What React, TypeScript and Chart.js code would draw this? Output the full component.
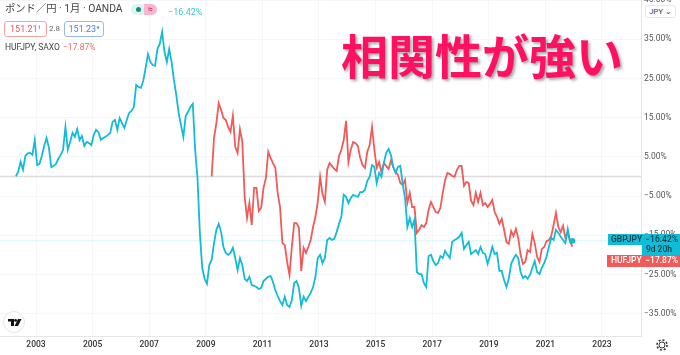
import React, { useEffect, useRef } from "react";
import { Chart, registerables } from "chart.js";

Chart.register(...registerables);

const START_YEAR = 2002.29;
const xTickYears = [2003, 2005, 2007, 2009, 2011, 2013, 2015, 2017, 2019, 2021, 2023];
const yTickValues = [45, 35, 25, 15, 5, -5, -15, -25, -35];
const gbpLast = -16.42;
const hufLast = -17.87;
const hufStartIndex = 83;

const gbpValues = [
  0, 1.3, 3.7, 1.7, 5.2, 5.9, 6.0, 5.5, 9.3, 2.9, 3.2, 5.2, 7.8, 9.8, 7.3, 2.4, 2.7, 3.2, 4.5, 5.5,
  6.8, 12.6, 6.8, 8.8, 11.1, 10.1, 12.1, 9.3, 10.3, 7.8, 8.8, 8.5, 8.0, 10.6, 11.9, 11.3, 9.3, 9.8, 10.1, 10.6,
  11.1, 13.9, 14.4, 11.9, 14.9, 13.6, 12.4, 14.4, 16.2, 16.7, 17.7, 23.3, 22.8, 22.6, 24.4, 27.7, 31.2, 29.2, 28.4, 28.2,
  32.5, 33.8, 36.9, 31.8, 29.2, 32.5, 29.2, 24.6, 20.8, 16.2, 13.1, 10.1, 15.4, 16.5, 17.7, 18.5, 6.8, -0.4,
  -14.4, -23.3, -26.1, -27.4, -22.6, -21.3, -17.0, -13.6, -12.1, -14.2, -18.0, -19.5, -20.0, -19.5, -18.2, -20.8, -23.9, -20.8, -22.6, -26.1,
  -26.7, -25.6, -27.7, -27.9, -28.2, -28.7, -28.4, -26.7, -26.1, -25.6, -25.4, -26.9, -29.0, -30.5, -31.8, -32.8, -30.7, -32.8, -33.3, -31.5,
  -27.2, -26.7, -28.4, -33.0, -30.7, -31.8, -30.7, -29.7, -28.2, -25.6, -20.8, -20.0, -22.1, -20.8, -16.2, -15.7, -16.2, -15.9, -14.2, -12.1,
  -10.3, -4.7, -5.2, -6.8, -5.5, -4.7, -5.0, -5.2, -4.0, -4.0, -3.4, -1.1, -0.1, 2.9, 2.4, -1.7, 0.9, -0.1, 3.4, 6.0,
  7.0, 5.5, 2.4, 0.9, 2.4, 2.7, -1.9, -5.5, -12.9, -10.6, -12.9, -11.1, -24.4, -24.9, -24.9, -27.2, -28.2, -20.3, -20.0, -21.6,
  -22.6, -22.1, -20.3, -20.8, -19.0, -20.0, -20.8, -16.7, -16.2, -15.9, -15.4, -14.4, -18.5, -17.5, -16.7, -19.8, -19.3, -18.8, -19.8, -18.0,
  -19.5, -19.8, -22.3, -20.3, -18.0, -19.8, -19.5, -24.1, -24.1, -26.4, -28.2, -26.1, -22.3, -21.0, -20.0, -20.8, -24.4, -25.9, -25.4, -26.1,
  -25.1, -23.3, -21.6, -24.4, -24.9, -23.3, -22.1, -20.5, -18.0, -15.7, -16.2, -13.6, -14.4, -15.4, -16.2, -17.0, -13.4, -16.7, gbpLast,
];

const hufValues = [
  0, 9.8, 13.6, 18.7, 17.0, 14.9, 14.4, 12.6, 11.4, 15.5, 7.5, 6.0, 12.0, 8.8, -5.2, -10.6, -6.8, -12.4, -2.9, -2.9,
  -8.8, -8.0, -2.9, -0.4, 6.3, 4.7, 3.4, 2.2, -4.2, -7.8, -17.0, -17.5, -21.8, -25.1, -18.0, -11.9, -11.9, -13.1, -24.1, -18.2,
  -19.5, -18.0, -16.2, -12.9, -10.3, -6.5, -0.1, -4.5, -6.5, 1.7, 3.4, 2.7, 1.9, 1.4, 5.2, 6.8, 9.3, 14.2, 3.7, 6.8,
  8.8, 8.5, 7.8, 4.7, 2.9, 2.2, 6.3, 8.0, 12.6, 6.8, 2.2, 3.7, 1.1, 3.4, 2.7, 1.9, 4.0, 2.4, 1.1, 0.4,
  -1.7, -2.2, -0.9, -6.8, -4.2, -7.8, -7.8, -14.4, -13.6, -12.4, -12.9, -11.9, -8.5, -6.5, -7.8, -9.1, -9.3, -8.0, -4.2, -0.9,
  0.9, 0.6, 0.1, -0.1, 1.7, 2.7, 2.7, -2.4, -1.4, -1.7, -6.2, -7.3, -4.2, -6.5, -4.2, -7.3, -6.8, -7.8, -7.0, -6.0,
  -9.1, -10.3, -12.1, -10.8, -13.6, -16.7, -17.2, -13.9, -15.2, -13.4, -15.7, -20.0, -22.3, -21.8, -18.8, -19.3, -14.7, -17.0, -20.5, -21.8,
  -18.5, -18.0, -16.5, -16.2, -15.2, -12.4, -9.3, -12.9, -14.2, -12.6, -15.7, -14.2, -16.7, hufLast,
];

const CYAN = "#12bcd6";
const RED = "#f05a58";
const AXIS_FONT = "Roboto";

const fmtPct = (v: number) => (v < 0 ? "\u2212" : "") + Math.abs(v).toFixed(2) + "%";

const noPad = (s: any) => {
  s.paddingLeft = 0;
  s.paddingRight = 0;
  s.paddingTop = 0;
  s.paddingBottom = 0;
};

const tagsPlugin = {
  id: "tags",
  afterDraw(chart: any) {
    const { ctx, width } = chart;
    const y = chart.scales.y;
    const gy = Math.round(y.getPixelForValue(gbpLast));
    const hy = Math.round(y.getPixelForValue(hufLast));
    const font = `500 8.5px ${AXIS_FONT}`;
    ctx.save();
    ctx.font = font;
    ctx.textBaseline = "middle";
    // cyan tag
    ctx.fillStyle = CYAN;
    ctx.fillRect(608, gy - 7, width - 608, 11);
    ctx.fillRect(642, gy + 4, width - 642, 10);
    ctx.fillStyle = "#0b3a44";
    ctx.textAlign = "left";
    ctx.fillText("GBPJPY", 611, gy - 1);
    ctx.textAlign = "right";
    ctx.fillText(fmtPct(gbpLast), 678, gy - 1);
    ctx.fillText("9d 20h", 672, gy + 9);
    // red tag
    ctx.fillStyle = RED;
    ctx.fillRect(607, hy + 9, width - 607, 12);
    ctx.fillStyle = "#ffffff";
    ctx.textAlign = "left";
    ctx.fillText("HUFJPY", 611, hy + 15);
    ctx.textAlign = "right";
    ctx.fillText(fmtPct(hufLast), 678, hy + 15);
    ctx.restore();
  },
};

export default function App() {
  const ref = useRef<HTMLCanvasElement | null>(null);

  useEffect(() => {
    if (!ref.current) return;
    const pts = (vals: number[], offset: number) =>
      vals.map((v, i) => ({ x: START_YEAR + (i + offset) / 12, y: v }));
    const xMin = 2003 - 36 / 28.3;
    const xMax = 2003 + (641 - 36) / 28.3;
    const chart = new Chart(ref.current, {
      type: "line",
      data: {
        datasets: [
          {
            label: "GBPJPY",
            data: pts(gbpValues, 0),
            borderColor: CYAN,
            backgroundColor: CYAN,
            borderWidth: 1.8,
            tension: 0,
            pointRadius: (c: any) => (c.dataIndex === gbpValues.length - 1 ? 2 : 0),
          },
          {
            label: "HUFJPY",
            data: pts(hufValues, hufStartIndex),
            borderColor: RED,
            borderWidth: 1.8,
            tension: 0,
            pointRadius: 0,
          },
          {
            label: "last",
            data: [{ x: xMin, y: gbpLast }, { x: xMax, y: gbpLast }],
            borderColor: "#d6f4f9",
            borderWidth: 1,
            pointRadius: 0,
          },
          {
            label: "base",
            data: [{ x: xMin, y: 0 }, { x: xMax, y: 0 }],
            borderColor: "#dcdcdc",
            borderWidth: 1.5,
            pointRadius: 0,
          },
        ],
      },
      options: {
        responsive: false,
        animation: false,
        layout: { autoPadding: false, padding: 0 },
        plugins: { legend: { display: false }, tooltip: { enabled: false } },
        scales: {
          x: {
            type: "linear",
            min: xMin,
            max: xMax,
            afterFit: (s: any) => { s.height = 19; noPad(s); },
            afterBuildTicks: (s: any) => { s.ticks = xTickYears.map((value) => ({ value })); },
            grid: { color: "#f5f6f8", drawTicks: false, lineWidth: 1 },
            border: { color: "#e3e5ea" },
            ticks: {
              color: "#333",
              font: { family: AXIS_FONT, size: 8.5, weight: "500" },
              padding: 4,
              maxRotation: 0,
              autoSkip: false,
              callback: (v: any) => String(v),
            },
          },
          y: {
            position: "right",
            min: -40.7,
            max: 45,
            afterFit: (s: any) => { s.width = 39; noPad(s); },
            afterBuildTicks: (s: any) => { s.ticks = yTickValues.map((value) => ({ value })); },
            grid: { color: "#f5f6f8", drawTicks: false, lineWidth: 1 },
            border: { color: "#e3e5ea" },
            ticks: {
              color: "#555",
              font: { family: AXIS_FONT, size: 8.5 },
              padding: 3,
              autoSkip: false,
              callback: (v: any) => fmtPct(Number(v)),
            },
          },
        },
      },
      plugins: [tagsPlugin],
    } as any);
    return () => chart.destroy();
  }, []);

  const base: React.CSSProperties = { position: "absolute", whiteSpace: "nowrap", fontFamily: "Roboto, 'Noto Sans CJK JP', sans-serif" };

  return (
    <div style={{ position: "absolute", left: 0, top: 0, width: 680, height: 355, overflow: "hidden", background: "#fff" }}>
      <canvas ref={ref} width={680} height={355} style={{ display: "block" }} />
      <div style={{ ...base, left: 5, top: 3, fontSize: 10.3, lineHeight: "12px", color: "#444" }}>ポンド／円 · 1月 · OANDA</div>
      <div style={{ ...base, left: 131, top: 4, width: 13, height: 11, background: "#dff3f0", borderRadius: "6px 0 0 6px" }}>
        <div style={{ position: "absolute", left: 5, top: 3, width: 5, height: 5, borderRadius: 3, background: "#0f8f80" }} />
      </div>
      <div style={{ ...base, left: 144, top: 4, width: 13, height: 11, background: "#f8b6cf", borderRadius: "0 6px 6px 0", fontSize: 9, lineHeight: "11px", color: "#c2185b", textAlign: "center" }}>≈</div>
      <div style={{ ...base, left: 168, top: 6, fontSize: 9, lineHeight: "12px", color: "#3fc6da" }}>−16.42%</div>
      <div style={{ ...base, left: 4, top: 21, width: 41, height: 14, border: "1px solid #f5a3a0", borderRadius: 3, fontSize: 9, lineHeight: "14px", color: "#ef5350", textAlign: "center" }}>151.21¹</div>
      <div style={{ ...base, left: 49, top: 23, fontSize: 8, lineHeight: "12px", color: "#666" }}>2.8</div>
      <div style={{ ...base, left: 64, top: 21, width: 38, height: 14, border: "1px solid #9db7f5", borderRadius: 3, fontSize: 9, lineHeight: "14px", color: "#4a7bf0", textAlign: "center" }}>151.23⁹</div>
      <div style={{ ...base, left: 5, top: 41, fontSize: 8.5, lineHeight: "12px", color: "#444" }}>HUFJPY, SAXO</div>
      <div style={{ ...base, left: 63, top: 41, fontSize: 8.5, lineHeight: "12px", color: "#ef6a68" }}>−17.87%</div>
      <div
        style={{
          ...base,
          left: 341,
          top: 24,
          fontFamily: "'Noto Sans CJK JP', sans-serif",
          fontWeight: 700,
          fontSize: 47,
          lineHeight: "60px",
          color: "#ff1060",
          WebkitTextStroke: "5px #fff",
          paintOrder: "stroke fill",
          textShadow: "2px 2px 3px rgba(0,0,0,0.35)",
        } as React.CSSProperties}
      >
        相関性が強い
      </div>
      <div style={{ ...base, left: 645, top: 5, width: 29, height: 11, border: "1px solid #e6e6e6", borderRadius: 3, background: "#fff", fontSize: 8, lineHeight: "11px", color: "#444", textAlign: "center" }}>JPY ⌄</div>
      <svg style={{ position: "absolute", left: 3, top: 311 }} width="22" height="22" viewBox="0 0 22 22">
        <circle cx="11" cy="11" r="10.5" fill="#fff" stroke="#e6e6e6" />
        <path d="M5 8 H11 V15 H8 V10.5 H5 Z" fill="#111" />
        <circle cx="12.6" cy="9.4" r="1.4" fill="#111" />
        <path d="M15 8 H18.5 L15 15 H11.6 Z" fill="#111" />
      </svg>
      <svg style={{ position: "absolute", left: 655, top: 338 }} width="14" height="14" viewBox="0 0 14 14">
        <circle cx="7" cy="7" r="3" fill="none" stroke="#333" strokeWidth="1" />
        <circle cx="7" cy="7" r="5" fill="none" stroke="#333" strokeWidth="1.6" strokeDasharray="2 1.9" />
      </svg>
    </div>
  );
}
